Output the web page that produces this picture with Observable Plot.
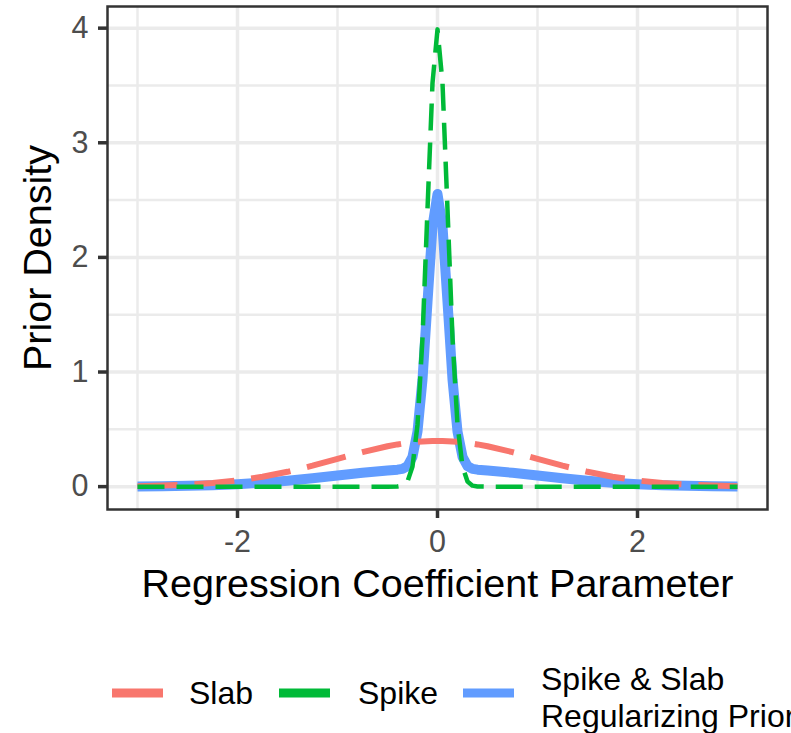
<!DOCTYPE html>
<html><head><meta charset="utf-8">
<script src="https://cdn.jsdelivr.net/npm/d3@7"></script>
<script src="https://cdn.jsdelivr.net/npm/@observablehq/plot@0.6"></script>
<style>
html,body{margin:0;padding:0;background:#fff;overflow:hidden;}
#chart svg{display:block;}
</style></head><body><div id="chart"></div>
<script>
// Values
const xs = [-3,-2.75,-2.5,-2.25,-2,-1.75,-1.5,-1.25,-1,-0.75,-0.5,-0.4,-0.35,-0.3,-0.25,-0.2,-0.15,-0.1,-0.05,0,
            0.05,0.1,0.15,0.2,0.25,0.3,0.35,0.4,0.5,0.75,1,1.25,1.5,1.75,2,2.25,2.5,2.75,3];
const slab = [0.0044,0.0091,0.0175,0.0317,0.0540,0.0863,0.1295,0.1826,0.2420,0.3011,0.3521,0.3683,0.3752,0.3814,0.3867,0.3910,0.3945,0.3970,0.3984,0.3989,
              0.3984,0.3970,0.3945,0.3910,0.3867,0.3814,0.3752,0.3683,0.3521,0.3011,0.2420,0.1826,0.1295,0.0863,0.0540,0.0317,0.0175,0.0091,0.0044];
const spike = [0,0,0,0,0,0,0,0,0,0,0,0.0013,0.0087,0.0443,0.1753,0.5399,1.2952,2.4197,3.5207,3.9894,
               3.5207,2.4197,1.2952,0.5399,0.1753,0.0443,0.0087,0.0013,0,0,0,0,0,0,0,0,0,0,0];
const mix = [0.0018,0.0036,0.0070,0.0127,0.0216,0.0345,0.0518,0.0730,0.0968,0.1204,0.1408,0.1481,0.1553,0.1792,0.2599,0.4803,0.9349,1.6106,2.2718,2.5532,
             2.2718,1.6106,0.9349,0.4803,0.2599,0.1792,0.1553,0.1481,0.1408,0.1204,0.0968,0.0730,0.0518,0.0345,0.0216,0.0127,0.0070,0.0036,0.0018];
const xTicks = [-2,0,2];
const xMinor = [-3,-1,1,3];
const yTicks = [0,1,2,3,4];
const yMinor = [0.5,1.5,2.5,3.5];
const seriesNames = ["Slab","Spike","Spike & Slab\nRegularizing Prior"];
const colors = ["#F8766D","#00BA38","#619CFF"];
const xTitle = "Regression Coefficient Parameter";
const yTitle = "Prior Density";

const rows = (ys) => xs.map((x,i) => ({x, y: ys[i]}));
const font = "'Liberation Sans', Arial, Helvetica, sans-serif";

const plot = Plot.plot({
  width: 791, height: 620,
  marginLeft: 107, marginRight: 24, marginTop: 6, marginBottom: 111,
  x: {domain: [-3.3, 3.3]},
  y: {domain: [-0.1995, 4.189]},
  style: {fontFamily: font, background: "#fff", overflow: "visible"},
  marks: [
    Plot.gridX(xMinor, {stroke: "#EBEBEB", strokeOpacity: 1, strokeWidth: 2.5}),
    Plot.gridY(yMinor, {stroke: "#EBEBEB", strokeOpacity: 1, strokeWidth: 2.5}),
    Plot.gridX(xTicks, {stroke: "#EBEBEB", strokeOpacity: 1, strokeWidth: 3.5}),
    Plot.gridY(yTicks, {stroke: "#EBEBEB", strokeOpacity: 1, strokeWidth: 3.5}),
    Plot.line(rows(mix), {x: "x", y: "y", stroke: colors[2], strokeWidth: 10, strokeLinejoin: "round", strokeLinecap: "butt"}),
    Plot.line(rows(slab), {x: "x", y: "y", stroke: colors[0], strokeWidth: 6, strokeDasharray: "40,17", strokeLinecap: "butt"}),
    Plot.line(rows(spike), {x: "x", y: "y", stroke: colors[1], strokeWidth: 4.5, strokeDasharray: "27,12", strokeLinecap: "butt"}),
    Plot.frame({stroke: "#333333", strokeWidth: 2.5}),
    Plot.axisX(xTicks, {tickSize: 9, tickPadding: 12, fontSize: 30.5, fill: "#4D4D4D", stroke: "#333333", strokeWidth: 3.5, label: null, tickFormat: d => d < 0 ? "-" + Math.abs(d) : String(d)}),
    Plot.axisY(yTicks, {tickSize: 9, tickPadding: 10, fontSize: 30.5, fill: "#4D4D4D", stroke: "#333333", strokeWidth: 3.5, label: null, tickFormat: d => String(d)}),
    Plot.text([xTitle], {text: d => d, frameAnchor: "bottom", textAnchor: "middle", lineAnchor: "middle", dy: 75, fontSize: 39.5, fill: "#000"}),
    Plot.text([yTitle], {text: d => d, frameAnchor: "left", textAnchor: "middle", lineAnchor: "middle", dx: -69, rotate: -90, fontSize: 39.5, fill: "#000"})
  ]
});
document.getElementById("chart").appendChild(plot);

// Legend below the plot
const leg = d3.select("#chart").append("svg")
  .attr("width", 791).attr("height", 113)
  .style("font-family", font);
const keyX = [112, 279, 463];
const textX = [189, 358, 541];
seriesNames.forEach((name, i) => {
  leg.append("line")
    .attr("x1", keyX[i]).attr("x2", keyX[i] + 51)
    .attr("y1", 73).attr("y2", 73)
    .attr("stroke", colors[i]).attr("stroke-width", 9);
  const lines = name.split("\n");
  const t = leg.append("text").attr("font-size", 32).attr("fill", "#000");
  if (lines.length === 1) {
    t.append("tspan").attr("x", textX[i]).attr("y", 84).text(lines[0]);
  } else {
    lines.forEach((l, j) => t.append("tspan").attr("x", textX[i]).attr("y", 70 + 37 * j).text(l));
  }
});
</script>
</body></html>
